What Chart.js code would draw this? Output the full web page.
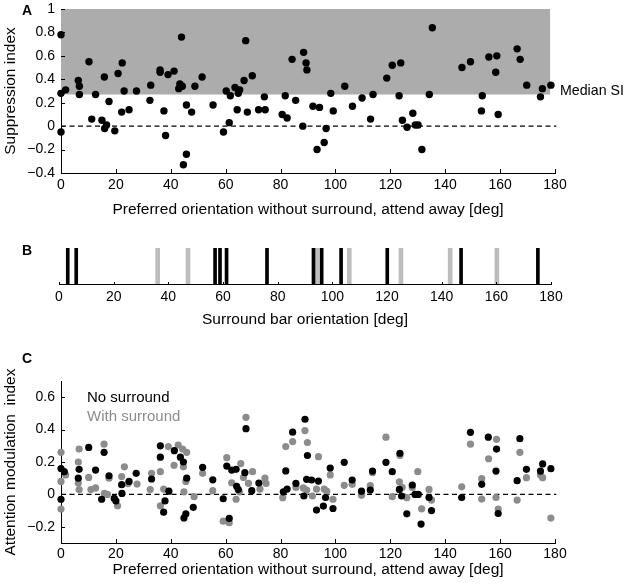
<!DOCTYPE html>
<html><head><meta charset="utf-8">
<script src="https://cdn.jsdelivr.net/npm/chart.js@4.4.1/dist/chart.umd.min.js"></script>
<style>
html,body{margin:0;padding:0;background:#fff;}
#wrap{position:relative;width:626px;height:587px;overflow:hidden;font-family:'Liberation Sans',Arial,Helvetica,sans-serif;}
canvas{position:absolute;left:0;}
.lbl{position:absolute;font-weight:bold;font-size:14px;line-height:14px;color:#000;}
</style></head><body>
<div id="wrap">
<canvas id="cA" width="626" height="225" style="top:0;width:626px;height:225px"></canvas>
<canvas id="cB" width="626" height="120" style="top:225px;width:626px;height:120px"></canvas>
<canvas id="cC" width="626" height="242" style="top:345px;width:626px;height:242px"></canvas>
<div class="lbl" style="left:22px;top:3px">A</div>
<div class="lbl" style="left:22px;top:243px">B</div>
<div class="lbl" style="left:22px;top:351px">C</div>
</div>
<script>
// ---------- Panel A data ----------
const suppressionOrientation = [
  0,0,1.7,0,6.3,6.7,6.7,10.2,11.2,12.6,
  14.9,15.8,15.9,16.6,17.5,19.6,20.8,22.1,22.3,23,
  24.8,27.5,32.4,32.7,36.1,36.1,37.5,38.1,39,41.2,
  42.9,43.3,43.9,44.2,44.6,45.7,45.7,47.6,48.8,51.4,
  55.4,59.2,60.2,61.3,61.7,63.4,64.2,64.6,65.1,66.7,
  67.3,67.9,69.7,72,74.1,74.4,80.6,81.7,82.4,84.2,
  85.5,88.1,88.4,89.3,89.6,91.8,93.3,94.2,95.9,96.6,
  98.3,99.2,103.4,106.2,109.7,112.8,113.7,118.7,120.7,123.2,
  123.8,124.4,126.1,128.2,129.1,130.1,131.5,134.2,135.3,146.1,
  149.2,153.5,153.2,155.9,158.8,158.4,159.3,166.2,167.3,169.7,
  174.7,175.4,178.5];
const suppressionIndex = [
  0.78,0.28,0.31,-0.05,0.39,0.34,0.27,0.55,0.06,0.27,
  0.05,0.42,-0.02,0.01,0.21,-0.04,0.45,0.12,0.54,0.30,
  0.14,0.30,0.22,0.35,0.48,0.46,0.13,-0.08,0.44,0.47,
  0.32,0.36,0.76,0.34,-0.33,-0.24,0.18,0.12,0.34,0.42,
  0.18,-0.05,0.30,0.03,0.26,0.33,0.14,0.28,0.31,0.39,
  0.73,0.12,0.43,0.14,0.25,0.14,0.10,0.26,0.07,0.57,
  0.22,0.00,0.63,0.54,0.48,0.17,-0.20,0.16,-0.14,-0.02,
  0.28,0.13,0.34,0.17,0.24,0.06,0.27,0.41,0.52,0.26,
  0.54,0.05,-0.01,0.11,0.01,0.01,-0.20,0.27,0.84,0.50,
  0.55,0.26,0.13,0.59,0.60,0.46,0.10,0.66,0.57,0.35,
  0.25,0.32,0.35];
const medianSI = 0.27;
const shadeStartDeg = 0;
const shadeEndDeg = 178.3;
const yTicksA = [-0.4,-0.2,0,0.2,0.4,0.6,0.8,1];
const xTicksDeg = [0,20,40,60,80,100,120,140,160,180];

// ---------- Panel B data ----------
const surroundBlackOrientation = [3.2,6.3,57.1,58.9,61.3,76.1,93.1,96.1,103.2,120.1,147.1,175.2];
const surroundGrayOrientation = [36.1,47.2,94.5,106.2,125.1,143.1,160.2];
const surroundBarHeight = 1;

// ---------- Panel C data ----------
const noSurroundOrientation = [
  0,1.2,0,6.6,6.3,10.1,12.6,15.7,14.8,17.5,
  19.4,20,22.1,22.2,24.8,27.4,33,36.2,36.2,37.9,
  37.4,39.3,41.3,43.5,44.6,45.8,48.2,45.5,44.8,51.6,
  55.3,59.1,61.3,60.4,62.2,63.8,67.0,67.4,64,64.6,
  69.5,72.1,81,81.9,82.4,84.4,85.6,88.9,89.8,89.5,
  88.5,91.3,93.8,96.4,93.1,95.6,99.1,98.1,103.2,106.1,
  109.5,112.7,113.5,118.4,120.7,123.5,123.3,124.1,126,128,
  129,130.2,131.2,134.1,135,146,149.2,153.3,155.7,158.7,
  158.5,159.3,167.2,166.2,169.6,175.5,174.7,178.5];
const noSurroundAMI = [
  0.16,0.14,-0.03,0.155,0.10,0.29,0.15,0.26,-0.03,0.115,
  -0.025,-0.04,0.06,0.006,0.08,0.13,0.095,0.30,0.23,-0.04,
  -0.11,0.02,0.27,0.23,0.20,0.10,-0.08,-0.12,-0.145,0.167,
  0.09,-0.027,-0.148,0.175,0.15,0.155,0.134,0.406,0.05,0.03,
  0.023,0.07,0.016,0.145,0.033,0.384,0.068,0.464,0.24,0.093,
  -0.01,0.089,0.082,-0.019,-0.097,-0.072,-0.087,0.163,0.198,0.089,
  0.02,0.027,0.144,0.198,0.14,0.254,0.031,-0.01,-0.12,0.058,
  0,0,-0.183,-0.019,-0.1,-0.019,0.383,0.062,0.353,0.28,
  0.144,-0.118,0.344,0.085,0.155,0.188,0.144,0.159];
const withSurroundOrientation = [
  0,0,0,1.7,6.6,6.3,6.3,6.6,10.1,15.7,
  10.9,12.6,15.8,16.9,17.5,20.6,23.1,22.1,24.4,27.7,
  33,32.5,36.2,36.2,39.1,37.4,42.7,41.2,44.3,45.8,
  44.6,45.5,44.8,48.5,51.6,55.3,59.1,61.3,60.4,65.5,
  69.8,67.4,62.2,63.8,65,66.5,68.3,72.5,74.3,74.7,
  80.8,81.9,84.4,85.6,88.9,89.8,88.3,93.8,91.6,93.1,
  95.9,96.8,89.5,99.1,98.1,103.2,106.1,109.5,112.7,113.5,
  118.4,120.7,123.5,123.3,124.3,126,128,130,131.4,134.1,
  135,146,149.2,153.3,153.3,158.7,155.8,158.5,159.3,167.2,
  166.2,169.6,174.7,175.5,178.5];
const withSurroundAMI = [
  0.26,0.08,-0.09,0.12,0.28,0.20,0.07,0.03,0.105,0.31,
  0.03,0.04,0.006,0,0.10,-0.07,0.17,0.11,0.066,0.064,
  0.13,0.03,0.14,-0.07,0.295,0.033,0.305,0.18,0.28,0.26,
  0.17,0.08,0.016,-0.014,0.13,0.023,-0.165,-0.175,0.227,0.19,
  0.14,0.476,0.072,-0.03,0.016,0.105,0.068,0.033,0.1,0.068,
  -0.02,0.295,0.326,0.043,0.394,0.32,0.04,0.233,-0.01,0.033,
  0.033,0.02,0.027,-0.03,0.12,0.056,0.062,-0.006,0.054,0.134,
  0.353,-0.014,0.24,0.078,0.043,-0.02,0.043,0.14,-0.089,0.031,
  -0.035,0.047,0.31,0.097,-0.029,0.34,0.22,-0.019,-0.09,0.26,
  -0.035,0.103,0.12,0.103,-0.146];
const yTicksC = [-0.2,0,0.2,0.4,0.6];
const legendLabels = ['No surround','With surround'];

// ---------- styling / helpers ----------
const FONT = "'Liberation Sans', Arial, Helvetica, sans-serif";
Chart.defaults.font.family = FONT;
Chart.defaults.color = '#000';
const GRAY_PT = '#8c8c8c';
const GRAY_SHADE = '#acacac';
const GRAY_BAR = '#bdbdbd';

function fmt(v){ const r = Math.round(v*10)/10; return (r<0?'\u2212':'') + String(Math.abs(r)); }
function fixed(size, isX){ return function(s){ if(isX) s.height=size; else s.width=size; s.paddingTop=0; s.paddingBottom=0; s.paddingLeft=0; s.paddingRight=0; }; }
function setTicks(arr){ return function(s){ s.ticks = arr.map(v=>({value:v})); }; }
function pts(xs, ys){ return xs.map((x,i)=>({x:x, y:ys[i]})); }

const inwardTicks = {
  id:'inwardTicks',
  afterDraw(chart, args, opts){
    const ctx = chart.ctx; ctx.save(); ctx.strokeStyle='#000'; ctx.lineWidth=1;
    Object.keys(opts).forEach(id=>{
      const s = chart.scales[id]; const len = opts[id];
      if(!s || typeof len!=='number') return;
      s.ticks.forEach(t=>{
        const p = Math.round(s.getPixelForValue(t.value))+0.5;
        ctx.beginPath();
        if(s.isHorizontal()){ ctx.moveTo(p, s.top); ctx.lineTo(p, s.top-len); }
        else { ctx.moveTo(s.right, p); ctx.lineTo(s.right+len, p); }
        ctx.stroke();
      });
    });
    ctx.restore();
  }
};
const textLabels = {
  id:'textLabels',
  afterDraw(chart, args, opts){
    if(!opts.items) return;
    const ctx = chart.ctx; ctx.save();
    opts.items.forEach(it=>{
      ctx.font = it.size+'px '+FONT; ctx.fillStyle = it.color; ctx.textAlign='left'; ctx.textBaseline='middle';
      const y = it.yValue!==undefined ? chart.scales.y.getPixelForValue(it.yValue)+it.dy : chart.chartArea.top+it.dy;
      const x = it.fromRight ? chart.chartArea.right+it.dx : it.dx;
      ctx.fillText(it.text, x, y);
    });
    ctx.restore();
  }
};

const common = {responsive:false, animation:false, devicePixelRatio:1, events:[]};
function xAxis(h, labelPad, title, titlePadBottom){
  return {type:'linear', min:0, max:180, offset:false,
    afterBuildTicks:setTicks(xTicksDeg), afterFit:fixed(h,true),
    grid:{display:false, drawTicks:false, offset:false},
    border:{display:true, color:'#000', width:1},
    ticks:{font:{size:14}, color:'#000', padding:labelPad, maxRotation:0, autoSkip:false, callback:v=>fmt(v)},
    title:{display:true, text:title, font:{size:15.5}, color:'#000', padding:{top:0,bottom:titlePadBottom}}};
}
function yAxis(min, max, ticksArr, title){
  return {type:'linear', min:min, max:max,
    afterBuildTicks:setTicks(ticksArr), afterFit:fixed(61,false),
    grid:{display:false, drawTicks:false},
    border:{display:true, color:'#000', width:1},
    ticks:{font:{size:14}, color:'#000', padding:6, autoSkip:false, callback:v=>fmt(v)},
    title:{display:true, text:title, font:{size:15.5}, color:'#000', padding:{top:1.3,bottom:0}}};
}

// ---------- Chart A ----------
new Chart(document.getElementById('cA'), {
  type:'scatter',
  data:{datasets:[
    {data:pts(suppressionOrientation, suppressionIndex), backgroundColor:'#000', borderColor:'#000', borderWidth:0, pointRadius:3.7, clip:false, order:0},
    {type:'line', data:[{x:0,y:0},{x:180.5,y:0}], borderColor:'#000', borderWidth:1.2, borderDash:[5,3.5], pointRadius:0, fill:false, clip:false, order:1},
    {type:'line', data:[{x:shadeStartDeg,y:medianSI},{x:shadeEndDeg,y:medianSI}], borderWidth:0, borderColor:'rgba(0,0,0,0)', backgroundColor:GRAY_SHADE, pointRadius:0, fill:'end', order:2}
  ]},
  options:Object.assign({}, common, {
    layout:{padding:{left:0,right:71,top:9,bottom:0}},
    plugins:{legend:{display:false}, tooltip:{enabled:false}, inwardTicks:{x:4,y:4},
      textLabels:{items:[{text:'Median SI', size:14.2, color:'#000', fromRight:true, dx:5, yValue:medianSI, dy:-3.5}]}},
    scales:{
      x:xAxis(52, 4.1, 'Preferred orientation without surround, attend away [deg]', 5.7),
      y:yAxis(-0.4, 1, yTicksA, 'Suppression index')
    }
  }),
  plugins:[inwardTicks, textLabels]
});

// ---------- Chart B ----------
new Chart(document.getElementById('cB'), {
  type:'bar',
  data:{datasets:[
    {data:surroundBlackOrientation.map(x=>({x:x, y:surroundBarHeight})), backgroundColor:'#000', borderWidth:0, barThickness:3, grouped:false, order:0},
    {data:surroundGrayOrientation.map(x=>({x:x, y:surroundBarHeight})), backgroundColor:GRAY_BAR, borderWidth:0, barThickness:4, grouped:false, order:1}
  ]},
  options:Object.assign({}, common, {
    layout:{padding:{left:59,right:75,top:23,bottom:0}},
    plugins:{legend:{display:false}, tooltip:{enabled:false}, inwardTicks:{x:2}},
    scales:{
      x:xAxis(61, 4.9, 'Surround bar orientation [deg]', 15.7),
      y:{display:false, min:0, max:1}
    }
  }),
  plugins:[inwardTicks]
});

// ---------- Chart C ----------
new Chart(document.getElementById('cC'), {
  type:'scatter',
  data:{datasets:[
    {label:legendLabels[0], data:pts(noSurroundOrientation, noSurroundAMI), backgroundColor:'#000', borderWidth:0, pointRadius:3.6, clip:false, order:0},
    {label:legendLabels[1], data:pts(withSurroundOrientation, withSurroundAMI), backgroundColor:GRAY_PT, borderWidth:0, pointRadius:3.6, clip:false, order:1},
    {type:'line', data:[{x:0,y:0},{x:180.5,y:0}], borderColor:'#000', borderWidth:1.2, borderDash:[5,3.5], pointRadius:0, fill:false, clip:false, order:2}
  ]},
  options:Object.assign({}, common, {
    layout:{padding:{left:0,right:71,top:36,bottom:0}},
    plugins:{legend:{display:false}, tooltip:{enabled:false}, inwardTicks:{x:4,y:4},
      textLabels:{items:[
        {text:legendLabels[0], size:15, color:'#000', dx:87, dy:17},
        {text:legendLabels[1], size:15, color:GRAY_PT, dx:87, dy:36}
      ]}},
    scales:{
      x:xAxis(44, 2.9, 'Preferred orientation without surround, attend away [deg]', 7.7),
      y:yAxis(-0.3, 0.7, yTicksC, 'Attention modulation  index')
    }
  }),
  plugins:[inwardTicks, textLabels]
});
</script>
</body></html>
